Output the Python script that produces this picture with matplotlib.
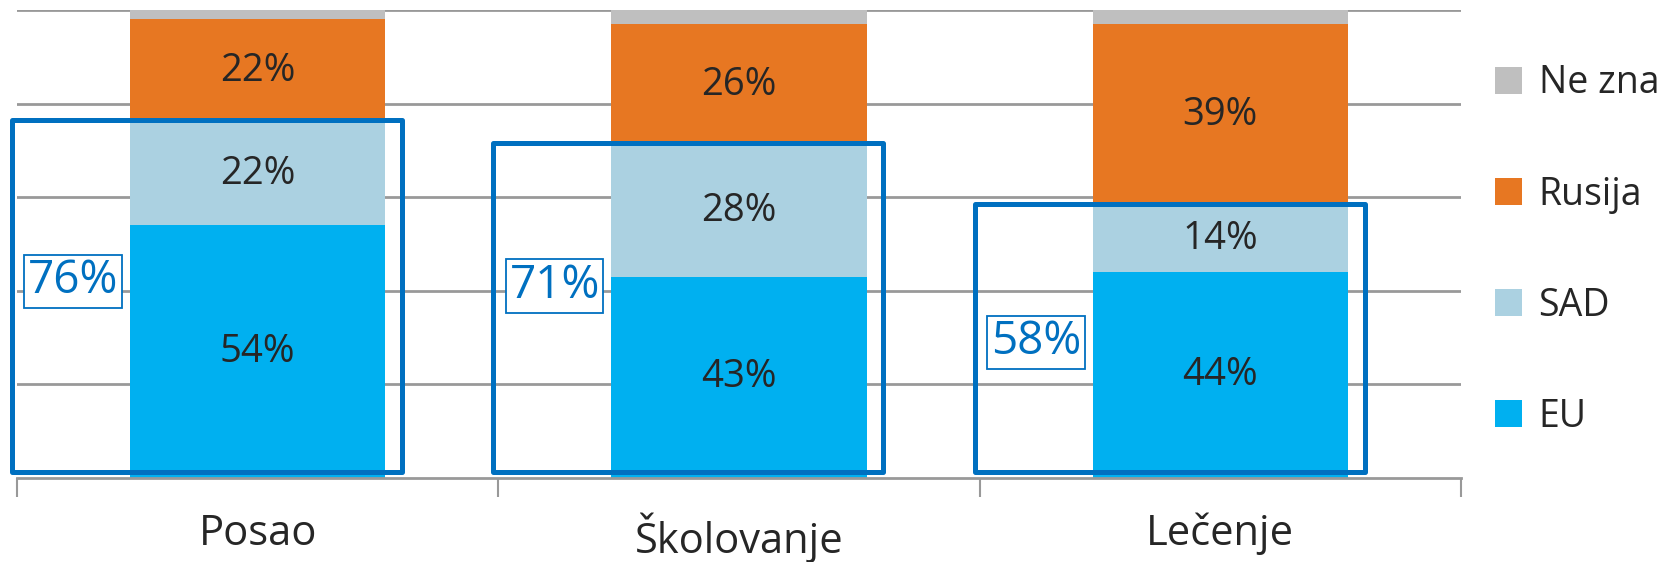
import matplotlib.pyplot as plt
from matplotlib.patches import Rectangle

plt.rcParams['font.family'] = ['Open Sans', 'DejaVu Sans']

# data
categories = ['Posao', 'Školovanje', 'Lečenje']
eu = [54, 43, 44]
sad = [22, 28, 14]
rusija = [22, 26, 39]
ne_zna = [2, 3, 3]
west_total = [76, 71, 58]
series_names = ['EU', 'SAD', 'Rusija', 'Ne zna']
colors = ['#00B0F0', '#ABD1E1', '#E77722', '#BFBFBF']
box_color = '#0070C0'
text_color = '#262626'

# where the highlighted total labels sit (layout only)
total_label_y = [42, 41, 29]

fig = plt.figure(figsize=(16.64, 5.62), dpi=100)
ax = fig.add_axes([0.0102, 0.1495, 0.8678, 0.8327])

x = list(range(len(categories)))
width = 0.53
bottom = [0, 0, 0]
for vals, name, col in zip([eu, sad, rusija, ne_zna], series_names, colors):
    ax.bar(x, vals, width=width, bottom=bottom, color=col, label=name, zorder=2)
    for xi, b, v in zip(x, bottom, vals):
        if name != 'Ne zna':
            ax.text(xi, b + v / 2, f'{v}%', ha='center', va='center',
                    fontsize=27.5, color=text_color, zorder=3)
    bottom = [b + v for b, v in zip(bottom, vals)]

# blue frames around EU + SAD
for xi, tot, ly in zip(x, west_total, total_label_y):
    left = xi - 0.51
    right = xi + 0.30
    rect = Rectangle((left, 1.3), right - left, tot + 0.5 - 1.3, fill=False,
                     edgecolor=box_color, linewidth=3.6, joinstyle='round',
                     zorder=4, clip_on=False)
    ax.add_patch(rect)
    ax.text(xi - 0.383, ly, f'{tot}%', ha='center', va='center', fontsize=33,
            color=box_color, zorder=5,
            bbox=dict(boxstyle='square,pad=0.08', fc='white', ec=box_color, lw=1.3))

ax.set_xlim(-0.5, 2.5)
ax.set_ylim(0, 100)

# gridlines
for g in [20, 40, 60, 80, 100]:
    ax.axhline(g, color='#999999', linewidth=2, zorder=1)

for s in ['left', 'right', 'top']:
    ax.spines[s].set_visible(False)
ax.spines['bottom'].set_color('#999999')
ax.spines['bottom'].set_linewidth(2)
ax.set_yticks([])

ax.set_xticks([-0.5, 0.5, 1.5, 2.5])
ax.set_xticklabels([])
ax.tick_params(axis='x', which='major', length=14, width=1.5, color='#999999')
ax.set_xticks(x, minor=True)
ax.set_xticklabels(categories, minor=True, fontsize=30, color=text_color)
ax.tick_params(axis='x', which='minor', length=0, pad=25)

handles, labels = ax.get_legend_handles_labels()
leg = ax.legend(handles[::-1], labels[::-1], loc='center left',
                bbox_to_anchor=(1.0, 0.487), frameon=False, fontsize=27,
                handlelength=0.72, handleheight=0.72, handletextpad=0.45,
                labelspacing=1.95, labelcolor=text_color)

fig.savefig('out.png', dpi=100)
